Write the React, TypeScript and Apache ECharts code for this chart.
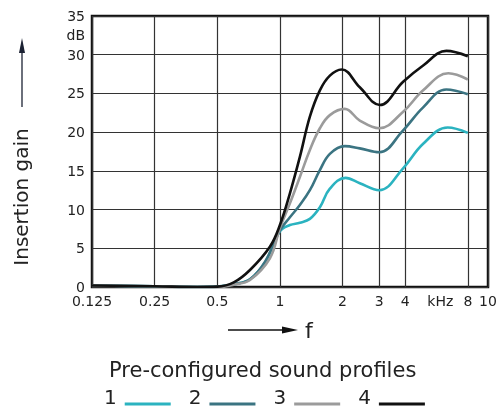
import React, { useEffect, useRef } from 'react';
import * as echarts from 'echarts';

// frequency in kHz, gain in dB
const profileNames = ['1', '2', '3', '4'];
const profileColors = ['#2bb3c0', '#3b7482', '#9b9b9b', '#111111'];

const freq1 = [0.125, 0.25, 0.4, 0.5, 0.6, 0.718, 0.85, 1, 1.117, 1.247, 1.393, 1.556, 1.738, 2.07, 2.42, 3, 3.9, 4.88, 6.4, 8];
const gain1 = [0.2, 0.1, 0, 0.05, 0.35, 1.0, 3.2, 7.2, 8.0, 8.3, 8.8, 10.3, 12.7, 14.1, 13.4, 12.5, 15.3, 18.5, 20.6, 19.9];

const freq2 = [0.125, 0.25, 0.4, 0.5, 0.6, 0.718, 0.85, 1, 1.117, 1.247, 1.393, 1.556, 1.738, 2.05, 2.42, 3, 3.9, 4.88, 6.3, 8];
const gain2 = [0.2, 0.1, 0, 0.05, 0.35, 1.0, 3.3, 7.3, 9.0, 10.6, 12.5, 15.1, 17.2, 18.2, 17.9, 17.4, 20.2, 23.2, 25.5, 24.9];

const freq3 = [0.125, 0.25, 0.4, 0.5, 0.6, 0.718, 0.895, 1, 1.117, 1.247, 1.393, 1.556, 1.738, 2.05, 2.42, 3, 3.9, 4.88, 6.45, 8];
const gain3 = [0.2, 0.1, 0, 0, 0.3, 0.9, 3.7, 7.6, 10.8, 14.2, 17.7, 20.5, 22.2, 23.0, 21.5, 20.5, 22.6, 25.4, 27.6, 26.8];

const freq4 = [0.125, 0.25, 0.4, 0.5, 0.6, 0.718, 0.895, 1, 1.117, 1.247, 1.393, 1.556, 1.738, 1.98, 2.42, 3.02, 3.91, 4.88, 6.31, 8];
const gain4 = [0.2, 0.1, 0, 0.05, 0.6, 2.2, 5.2, 8.0, 12.1, 16.8, 22.0, 25.4, 27.3, 28.1, 25.8, 23.5, 26.5, 28.6, 30.5, 29.8];

const freqs = [freq1, freq2, freq3, freq4];
const gains = [gain1, gain2, gain3, gain4];

const xTicks = [0.125, 0.25, 0.5, 1, 2, 3, 4, 8, 10];
const xLabelValues = [0.125, 0.25, 0.5, 1, 2, 3, 4, 5.9, 8, 10];
const yLabelValues = [0, 5, 10, 15, 20, 25, 30, 32.5, 35];

const font = '"DejaVu Sans", sans-serif';
const textColor = '#222';

// legend swatch: 3px bar near the bottom of a 20px box (tiny dots fix the box)
const legendIcon =
  'path://M0,0h0.01v0.01h-0.01z M0,15.5h46v3h-46z M0,19.99h0.01v0.01h-0.01z';

const App: React.FC = () => {
  const chartRef = useRef<HTMLDivElement>(null);

  useEffect(() => {
    if (!chartRef.current) return;
    const chart = echarts.init(chartRef.current, null, { renderer: 'svg' });

    const series = profileNames.map((name, i) => ({
      name,
      type: 'line',
      smooth: 0.4,
      showSymbol: false,
      symbol: 'none',
      color: profileColors[i],
      lineStyle: { width: 2.6, color: profileColors[i] },
      data: freqs[i].map((f, j) => [f, gains[i][j]]),
      z: 3 + i,
    }));

    const option: any = {
      animation: false,
      textStyle: { fontFamily: font },
      grid: {
        left: 92,
        right: 15,
        top: 16,
        bottom: 124,
        show: true,
        borderColor: '#111',
        borderWidth: 2.5,
      },
      title: {
        text: 'Pre-configured sound profiles',
        left: 104,
        top: 354,
        textStyle: { fontSize: 21, fontWeight: 'normal', color: textColor, fontFamily: font },
      },
      legend: {
        data: profileNames,
        left: 104,
        top: 387,
        padding: 0,
        align: 'right',
        icon: legendIcon,
        itemWidth: 46,
        itemHeight: 20,
        itemGap: 18,
        textStyle: {
          fontSize: 20,
          color: textColor,
          fontFamily: font,
          padding: [0, 3, 0, 0],
          lineHeight: 20,
        },
      },
      xAxis: {
        type: 'log',
        logBase: 2,
        min: 0.125,
        max: 10,
        axisLine: { show: false },
        axisTick: { show: false, customValues: xTicks },
        splitLine: { show: true, lineStyle: { color: '#333', width: 1.2 } },
        axisLabel: {
          customValues: xLabelValues,
          margin: 7,
          fontSize: 14,
          color: textColor,
          fontFamily: font,
          formatter: (v: number) => (Math.abs(v - 5.9) < 0.01 ? 'kHz' : String(v)),
        },
      },
      yAxis: {
        type: 'value',
        min: 0,
        max: 35,
        interval: 5,
        axisLine: { show: false },
        axisTick: { show: false },
        splitLine: { show: true, lineStyle: { color: '#333', width: 1.2 } },
        axisLabel: {
          customValues: yLabelValues,
          margin: 7,
          fontSize: 14,
          color: textColor,
          fontFamily: font,
          formatter: (v: number) => (v === 32.5 ? 'dB' : String(v)),
        },
      },
      graphic: [
        {
          type: 'text',
          x: 21,
          y: 197,
          rotation: Math.PI / 2,
          style: {
            text: 'Insertion gain',
            fontSize: 20,
            fontFamily: font,
            fill: textColor,
            textAlign: 'center',
            textVerticalAlign: 'middle',
          },
        },
        {
          type: 'line',
          shape: { x1: 22, y1: 107, x2: 22, y2: 48 },
          style: { stroke: '#1c2233', lineWidth: 1.3 },
        },
        {
          type: 'polygon',
          shape: { points: [[22, 38], [19, 53], [25, 53]] },
          style: { fill: '#1c2233' },
        },
        {
          type: 'line',
          shape: { x1: 228, y1: 330, x2: 285, y2: 330 },
          style: { stroke: '#111', lineWidth: 1.3 },
        },
        {
          type: 'polygon',
          shape: { points: [[298, 330], [282, 326.5], [282, 333.5]] },
          style: { fill: '#111' },
        },
        {
          type: 'text',
          x: 305,
          y: 330,
          style: {
            text: 'f',
            fontSize: 22,
            fontFamily: font,
            fill: textColor,
            textAlign: 'left',
            textVerticalAlign: 'middle',
          },
        },
      ],
      series,
    };

    chart.setOption(option);

    return () => {
      chart.dispose();
    };
  }, []);

  return (
    <div
      ref={chartRef}
      style={{ position: 'fixed', left: 0, top: 0, width: '503px', height: '411px' }}
    />
  );
};

export default App;
